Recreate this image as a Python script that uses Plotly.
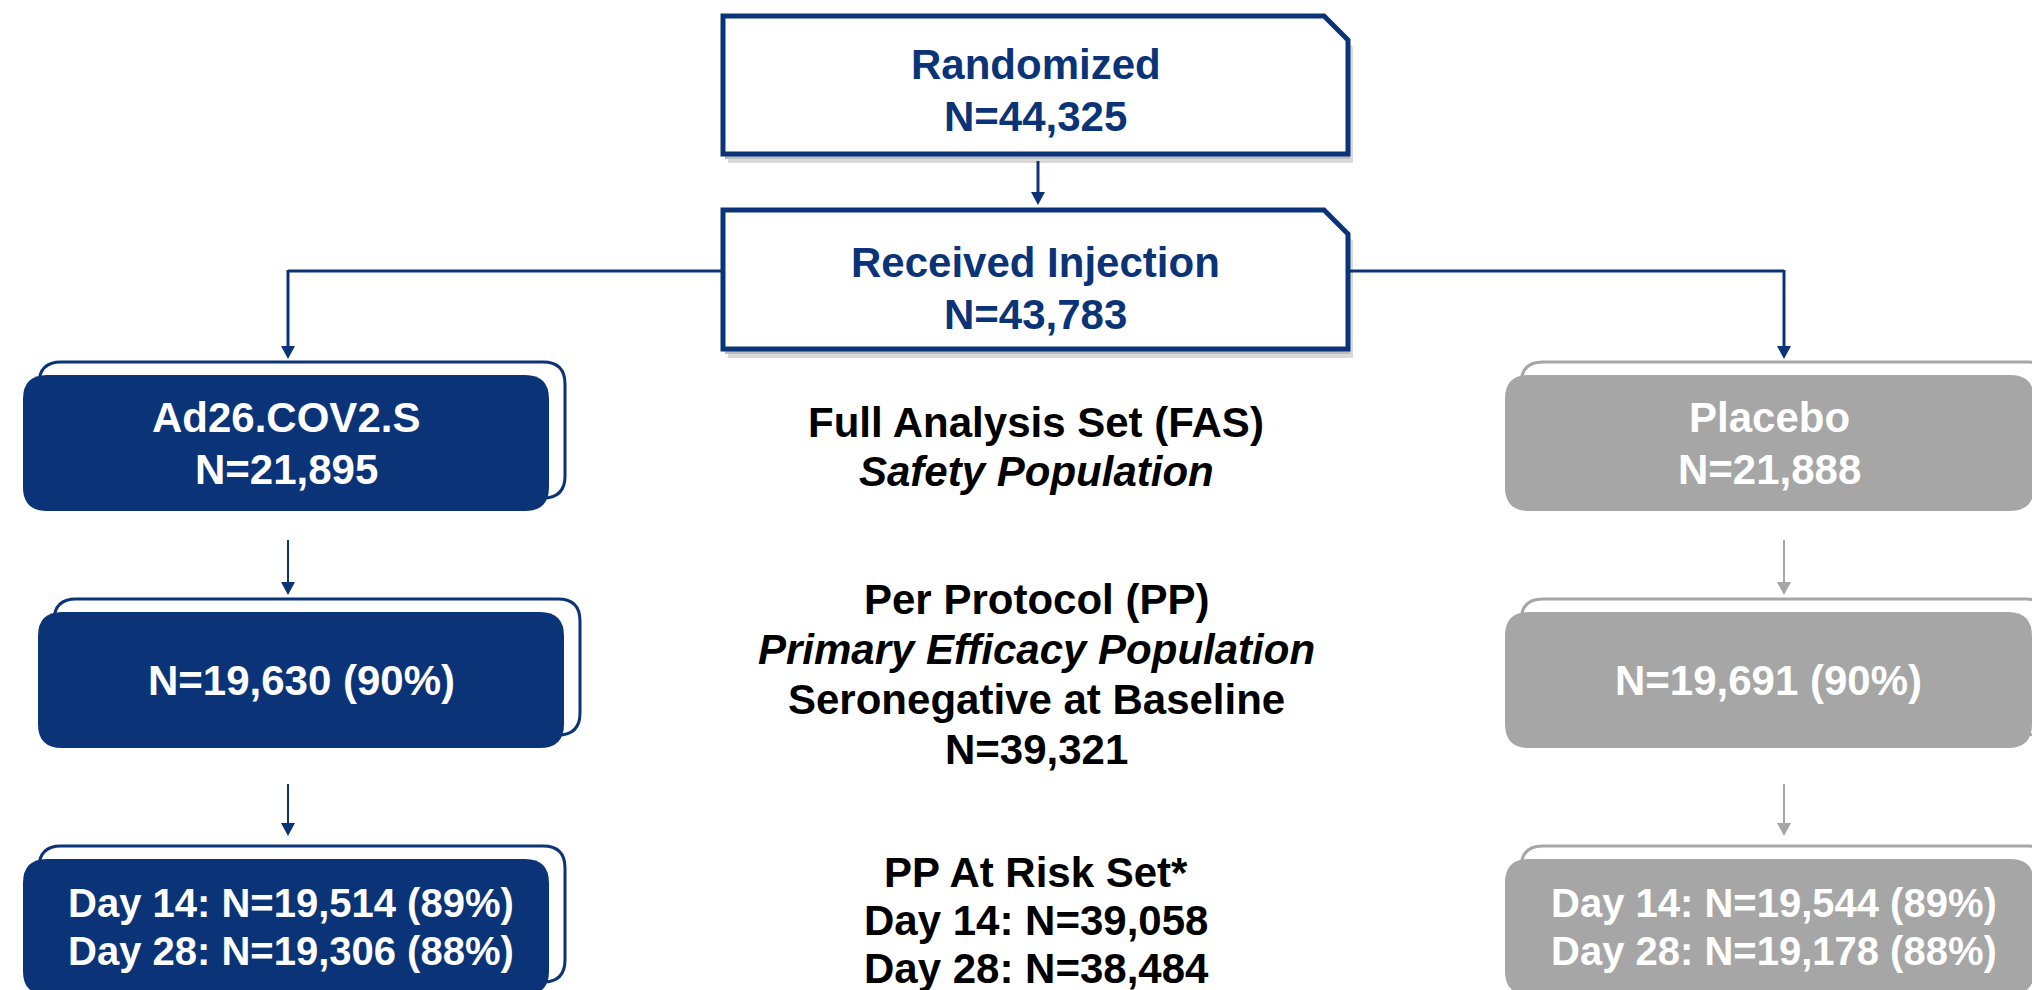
import plotly.graph_objects as go

# ---------------- data ----------------
randomized_label = "Randomized"
randomized_n = 44325
injected_label = "Received Injection"
injected_n = 43783
arm_labels = ["Ad26.COV2.S", "Placebo"]
fas_n = [21895, 21888]
pp_n = [19630, 19691]
pp_pct = [90, 90]
day14_n = [19514, 19544]
day14_pct = [89, 89]
day28_n = [19306, 19178]
day28_pct = [88, 88]
fas_lines = ["<b>Full Analysis Set (FAS)</b>", "<b><i>Safety Population</i></b>"]
pp_lines = ["<b>Per Protocol (PP)</b>", "<b><i>Primary Efficacy Population</i></b>",
            "<b>Seronegative at Baseline</b>"]
pp_total_n = 39321
risk_title = "PP At Risk Set*"
risk_day14_n = 39058
risk_day28_n = 38484

# ---------------- styling / layout ----------------
W, H = 2040, 990
NAVY = "#0B3478"
GRAY = "#A6A6A6"
FONT = "Liberation Sans, Arial, sans-serif"

shapes = []
annotations = []


def rrect(x0, y0, x1, y1, r):
    return (f"M {x0+r},{y0} L {x1-r},{y0} Q {x1},{y0} {x1},{y0+r} "
            f"L {x1},{y1-r} Q {x1},{y1} {x1-r},{y1} L {x0+r},{y1} "
            f"Q {x0},{y1} {x0},{y1-r} L {x0},{y0+r} Q {x0},{y0} {x0+r},{y0} Z")


def cutrect(x0, y0, x1, y1, c):
    return f"M {x0},{y0} L {x1-c},{y0} L {x1},{y0+c} L {x1},{y1} L {x0},{y1} Z"


def text(x, y, s, color, size=42):
    annotations.append(dict(x=x, y=y, text=s, showarrow=False, xanchor="center",
                            yanchor="middle", font=dict(family=FONT, size=size, color=color)))


def arrow(x, y0, y1, color, w=3, hw=7, hl=13):
    shapes.append(dict(type="line", x0=x, x1=x, y0=y0, y1=y1 - hl + 2,
                       line=dict(color=color, width=w)))
    shapes.append(dict(type="path", path=f"M {x-hw},{y1-hl} L {x+hw},{y1-hl} L {x},{y1} Z",
                       fillcolor=color, line=dict(width=0)))


def top_box(x0, y0, x1, y1, lines, ys):
    shapes.append(dict(type="path", path=cutrect(x0 + 5, y0 + 7, x1 + 5, y1 + 9, 24),
                       fillcolor="#d9d9d9", line=dict(width=0)))
    shapes.append(dict(type="path", path=cutrect(x0 + 2, y0 + 3, x1 + 2, y1 + 5, 24),
                       fillcolor="#bdbdbd", line=dict(width=0)))
    shapes.append(dict(type="path", path=cutrect(x0, y0, x1, y1, 24),
                       fillcolor="white", line=dict(color=NAVY, width=5)))
    for s, yy in zip(lines, ys):
        text((x0 + x1) / 2, yy, f"<b>{s}</b>", NAVY)


def arm_box(fx0, fy0, fx1, fy1, color, lines, size=42, step=52, dx=16, dy=-13, tdx=0):
    # outline copy behind
    shapes.append(dict(type="path", path=rrect(fx0 + dx, fy0 + dy, fx1 + dx, fy1 + dy, 22),
                       fillcolor="white", line=dict(color=color, width=3)))
    shapes.append(dict(type="path", path=rrect(fx0, fy0, fx1, fy1, 24),
                       fillcolor=color, line=dict(width=0)))
    cx = (fx0 + fx1) / 2 + tdx
    cy = (fy0 + fy1) / 2
    n = len(lines)
    for i, s in enumerate(lines):
        text(cx, cy + (i - (n - 1) / 2) * step, f"<b>{s}</b>", "white", size)


# top boxes
top_box(715, 8, 1340, 146, [randomized_label, f"N={randomized_n:,}"], [56, 108])
arrow(1030, 153, 197, NAVY)
top_box(715, 202, 1340, 341, [injected_label, f"N={injected_n:,}"], [254, 306])

# branch lines
shapes.append(dict(type="line", x0=280, x1=715, y0=263, y1=263, line=dict(color=NAVY, width=3)))
shapes.append(dict(type="line", x0=1340, x1=1776, y0=263, y1=263, line=dict(color=NAVY, width=3)))
arrow(280, 262, 351, NAVY)
arrow(1776, 262, 351, NAVY)

# arm columns
cols = [
    dict(color=NAVY, x0=[15, 30, 15], x1=[541, 556, 541], ax=280, tdx=5),
    dict(color=GRAY, x0=[1497, 1497, 1497], x1=[2026, 2024, 2026], ax=1776, tdx=4),
]
rows_y = [(367, 503), (604, 740), (851, 987)]

for i, c in enumerate(cols):
    arm_box(c["x0"][0], rows_y[0][0], c["x1"][0], rows_y[0][1], c["color"],
            [arm_labels[i], f"N={fas_n[i]:,}"])
    arrow(c["ax"], 532, 587, c["color"], w=2)
    arm_box(c["x0"][1], rows_y[1][0], c["x1"][1], rows_y[1][1], c["color"],
            [f"N={pp_n[i]:,} ({pp_pct[i]}%)"])
    arrow(c["ax"], 776, 828, c["color"], w=2)
    arm_box(c["x0"][2], rows_y[2][0], c["x1"][2], rows_y[2][1], c["color"],
            [f"Day 14: N={day14_n[i]:,} ({day14_pct[i]}%)",
             f"Day 28: N={day28_n[i]:,} ({day28_pct[i]}%)"], size=40, step=48, tdx=c["tdx"])

# middle column text
MX = 1028
for s, yy in zip(fas_lines, [414, 463]):
    text(MX, yy, s, "black")
for s, yy in zip(pp_lines + [f"<b>N={pp_total_n:,}</b>"], [591, 641, 691, 741]):
    text(MX, yy, s, "black")
for s, yy in zip([f"<b>{risk_title}</b>", f"<b>Day 14: N={risk_day14_n:,}</b>",
                  f"<b>Day 28: N={risk_day28_n:,}</b>"], [864, 912, 960]):
    text(MX, yy, s, "black")

fig = go.Figure()
fig.update_layout(
    width=W, height=H, margin=dict(l=0, r=0, t=0, b=0),
    paper_bgcolor="white", plot_bgcolor="white",
    xaxis=dict(range=[0, W], visible=False, fixedrange=True),
    yaxis=dict(range=[H, 0], visible=False, fixedrange=True),
    shapes=shapes, annotations=annotations, showlegend=False,
)
fig.write_html("out.html", config={"displayModeBar": False})
